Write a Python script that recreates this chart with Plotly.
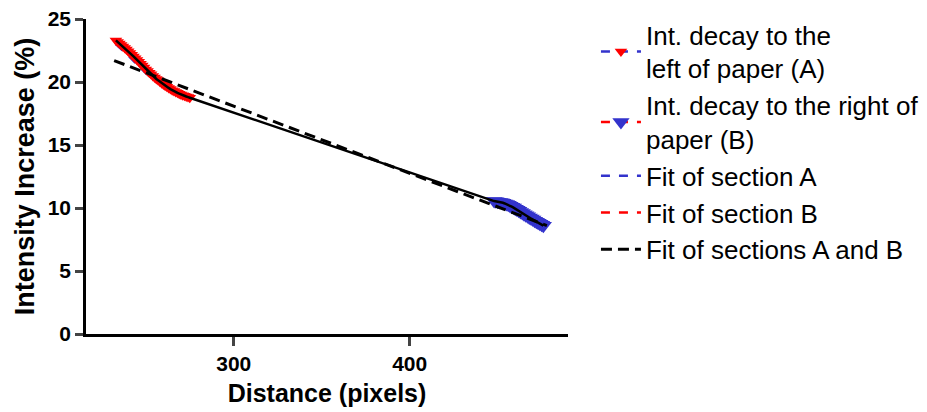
import plotly.graph_objects as go

# Intensity decay measured on each side of the paper
dist_a = [233, 234, 235, 236, 237, 238, 239, 240, 241, 242, 243, 244, 245, 246, 247,
          248, 249, 250, 251, 252, 253, 254, 255, 256, 257, 258, 259, 260, 261, 262,
          263, 264, 265, 266, 267, 268, 269, 270, 271, 272, 273, 274, 275]
int_a = [23.3, 23.18, 23.06, 22.94, 22.82, 22.7, 22.58, 22.45, 22.31, 22.17, 22.03, 21.89,
         21.75, 21.6, 21.45, 21.3, 21.15, 21.0, 20.87, 20.74, 20.61, 20.48, 20.35, 20.24,
         20.13, 20.02, 19.91, 19.8, 19.71, 19.62, 19.53, 19.44, 19.35, 19.28, 19.21, 19.14,
         19.07, 19.0, 18.95, 18.9, 18.85, 18.8, 18.75]

dist_b = [448, 449, 450, 451, 452, 453, 454, 455, 456, 457, 458, 459, 460, 461, 462,
          463, 464, 465, 466, 467, 468, 469, 470, 471, 472, 473, 474, 475, 476]
int_b = [10.55, 10.53, 10.5, 10.48, 10.45, 10.41, 10.36, 10.31, 10.25, 10.18, 10.1, 10.03,
         9.95, 9.87, 9.78, 9.69, 9.6, 9.51, 9.43, 9.34, 9.25, 9.16, 9.08, 8.99, 8.9,
         8.82, 8.75, 8.67, 8.6]

# Fitted curves
fit_a_x = [233, 240, 250, 260, 275]
fit_a_y = [23.0, 22.1, 20.7, 19.6, 18.6]
fit_b_x = [448, 456, 464, 472, 476]
fit_b_y = [10.5, 10.2, 9.55, 8.85, 8.55]
fit_ab_x = [232, 478]
fit_ab_y = [21.7, 8.6]

BLUE = "rgb(51,51,204)"
RED = "rgb(255,0,0)"
FONT = "Liberation Sans, Arial, sans-serif"

fig = go.Figure()

fig.add_trace(go.Scatter(
    x=fit_a_x, y=fit_a_y, mode="lines", name="Fit of section A",
    line=dict(color=BLUE, width=2.5, dash="dash"), legendrank=3))
fig.add_trace(go.Scatter(
    x=fit_b_x, y=fit_b_y, mode="lines", name="Fit of section B",
    line=dict(color=RED, width=2.5, dash="dash"), legendrank=4))

fig.add_trace(go.Scatter(
    x=dist_a, y=int_a, mode="lines+markers",
    name="Int. decay to the<br>left of paper (A)",
    line=dict(color=BLUE, width=2.5, dash="dash"),
    marker=dict(symbol="triangle-down", size=11, color=RED, line=dict(width=0)),
    legendrank=1))
fig.add_trace(go.Scatter(
    x=dist_b, y=int_b, mode="lines+markers",
    name="Int. decay to the right of<br>paper (B)",
    line=dict(color=RED, width=2.5, dash="dash"),
    marker=dict(symbol="triangle-down", size=15, color=BLUE, line=dict(width=0)),
    legendrank=2))

# Combined profile through both sections
fig.add_trace(go.Scatter(
    x=dist_a + dist_b, y=int_a + int_b, mode="lines", showlegend=False,
    line=dict(color="black", width=2.5)))

fig.add_trace(go.Scatter(
    x=fit_ab_x, y=fit_ab_y, mode="lines", name="Fit of sections A and B",
    line=dict(color="black", width=3, dash="11px,6px"), legendrank=5))

tick_font = dict(family=FONT, size=21, color="black", weight="bold")

fig.update_layout(
    width=927, height=412,
    margin=dict(l=86, r=359, t=19, b=78, autoexpand=False),
    plot_bgcolor="white", paper_bgcolor="white",
    font=dict(family=FONT, color="black"),
    xaxis=dict(
        range=[216, 490], tickvals=[300, 400], ticks="outside", ticklen=9, tickwidth=2.5,
        showline=True, linewidth=2.5, linecolor="black", showgrid=False, zeroline=False,
        tickfont=tick_font, automargin=False,
        title=dict(text="Distance (pixels)", font=dict(family=FONT, size=25, weight="bold"),
                   standoff=11)),
    yaxis=dict(
        range=[0, 25], tickvals=[0, 5, 10, 15, 20, 25], ticks="outside", ticklen=8, tickwidth=2.5,
        showline=True, linewidth=2.5, linecolor="black", showgrid=False, zeroline=False,
        tickfont=tick_font, automargin=False,
        title=dict(text="Intensity Increase (%)", font=dict(family=FONT, size=27, weight="bold"),
                   standoff=6)),
    legend=dict(
        x=1.058, y=1.025, xanchor="left", yanchor="top",
        font=dict(family=FONT, size=26, color="black"), bgcolor="rgba(0,0,0,0)",
        itemwidth=40, maxheight=400),
)

fig.write_html("out.html")
